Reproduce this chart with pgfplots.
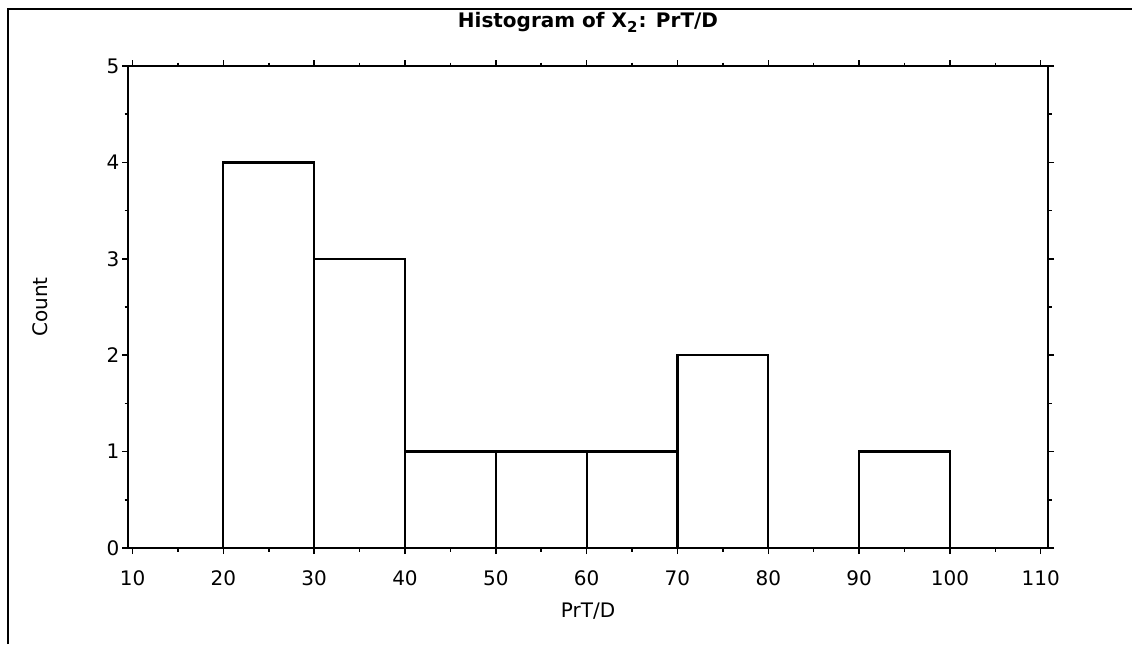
\documentclass[border=0pt]{standalone}
\usepackage{fontspec}
\setmainfont{DejaVu Sans}
\usepackage{pgfplots}
\pgfplotsset{compat=1.18}

% 1 px of the reference = 0.4pt
\begin{document}
\begin{tikzpicture}
\begin{axis}[
  name=ax,
  at={(0,0)}, anchor=south west,
  scale only axis,
  width=368pt, height=192.8pt,
  xmin=9.5, xmax=110.8,
  ymin=0, ymax=5,
  xtick={10,20,...,110},
  ytick={0,1,...,5},
  minor x tick num=1,
  minor y tick num=1,
  tick align=outside,
  major tick length=2.4pt,
  minor tick length=1.4pt,
  every tick/.style={black, line width=0.6pt},
  axis line style={line width=0.9pt},
  ticklabel style={font=\footnotesize},
  /pgf/number format/assume math mode=true,
  xticklabel style={yshift=-3pt},
  yticklabel style={xshift=2.5pt},
]
\addplot[ybar interval, draw=black, fill=white, line width=0.9pt] coordinates {
  (20,4) (30,3) (40,1) (50,1) (60,1) (70,2) (80,0) (90,1) (100,1)
};
\end{axis}
\node[font=\footnotesize\bfseries] at ([yshift=17.4pt]ax.north) {Histogram of X\textsubscript{2}: PrT/D};
\node[font=\footnotesize] at ([yshift=-25.2pt]ax.south) {PrT/D};
\node[font=\footnotesize, rotate=90] at ([xshift=-35.2pt]ax.west) {Count};
\draw[line width=1pt] (-48pt,-38.4pt) -- (-48pt,215.6pt) -- (401.6pt,215.6pt);
\pgfresetboundingbox
\useasboundingbox (-51.2pt,-38.4pt) rectangle (401.6pt,219.2pt);
\end{tikzpicture}
\end{document}
